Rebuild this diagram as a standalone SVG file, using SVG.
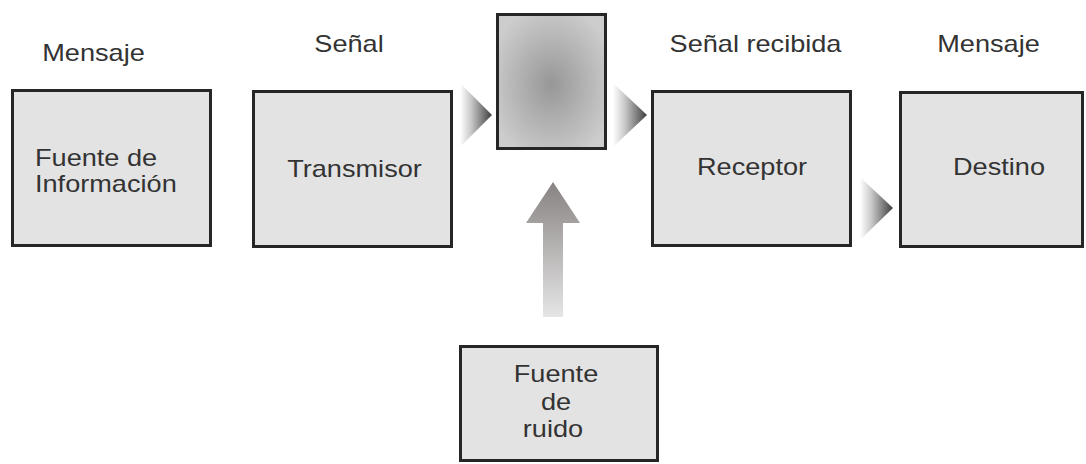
<svg xmlns="http://www.w3.org/2000/svg" width="1086" height="464" viewBox="0 0 1086 464">
<defs>
<style>
.box{fill:#e3e3e3;stroke:#262626;stroke-width:3}
.t{font-family:"Liberation Sans",Arial,sans-serif;font-size:23px;fill:#333}
.c{text-anchor:middle}
</style>
<radialGradient id="chan" cx="0.5" cy="0.52" r="0.6">
<stop offset="0" stop-color="#979797"/>
<stop offset="1" stop-color="#cdcdcd"/>
</radialGradient>
<linearGradient id="tri" x1="0" y1="0" x2="1" y2="0">
<stop offset="0" stop-color="#ffffff"/>
<stop offset="0.35" stop-color="#c8c8c8"/>
<stop offset="1" stop-color="#3e3e3e"/>
</linearGradient>
<linearGradient id="up" x1="0" y1="0" x2="0" y2="1">
<stop offset="0" stop-color="#888282"/>
<stop offset="1" stop-color="#e6e6e6"/>
</linearGradient>
</defs>
<rect width="1086" height="464" fill="#ffffff"/>

<g id="labels">
<text class="t c" transform="translate(93.5,61) scale(1.18,1)">Mensaje</text>
<text class="t c" transform="translate(349,52) scale(1.18,1)">Señal</text>
<text class="t c" transform="translate(755.5,52) scale(1.18,1)">Señal recibida</text>
<text class="t c" transform="translate(988.5,52) scale(1.18,1)">Mensaje</text>
</g>

<g id="connectors">
<path d="M460,83 L492,115 L460,147 Z" fill="url(#tri)"/>
<path d="M613,83 L647,115 L613,147 Z" fill="url(#tri)"/>
<path d="M860,177 L893,208 L860,240 Z" fill="url(#tri)"/>
<path d="M543,317 L543,223 L526,223 L553,182 L580,223 L563,223 L563,317 Z" fill="url(#up)"/>
</g>

<g id="fuente-informacion">
<rect class="box" x="12.5" y="90.5" width="198" height="155"/>
<text class="t" transform="translate(35,166) scale(1.18,1)">Fuente de</text>
<text class="t" transform="translate(35,192) scale(1.18,1)">Información</text>
</g>

<g id="transmisor">
<rect class="box" x="253.5" y="91.5" width="198" height="155"/>
<text class="t c" transform="translate(354.5,177) scale(1.18,1)">Transmisor</text>
</g>

<g id="canal">
<rect x="497.5" y="14.5" width="108" height="134" fill="url(#chan)" stroke="#262626" stroke-width="3"/>
</g>

<g id="receptor">
<rect class="box" x="652.5" y="91.5" width="198" height="154"/>
<text class="t c" transform="translate(752,175) scale(1.18,1)">Receptor</text>
</g>

<g id="destino">
<rect class="box" x="900.5" y="92.5" width="182" height="154"/>
<text class="t c" transform="translate(999,175) scale(1.18,1)">Destino</text>
</g>

<g id="fuente-ruido">
<rect class="box" x="460.5" y="346.5" width="197" height="114"/>
<text class="t c" transform="translate(556,382) scale(1.18,1)">Fuente</text>
<text class="t c" transform="translate(556,410) scale(1.18,1)">de</text>
<text class="t c" transform="translate(553,437) scale(1.18,1)">ruido</text>
</g>
</svg>
